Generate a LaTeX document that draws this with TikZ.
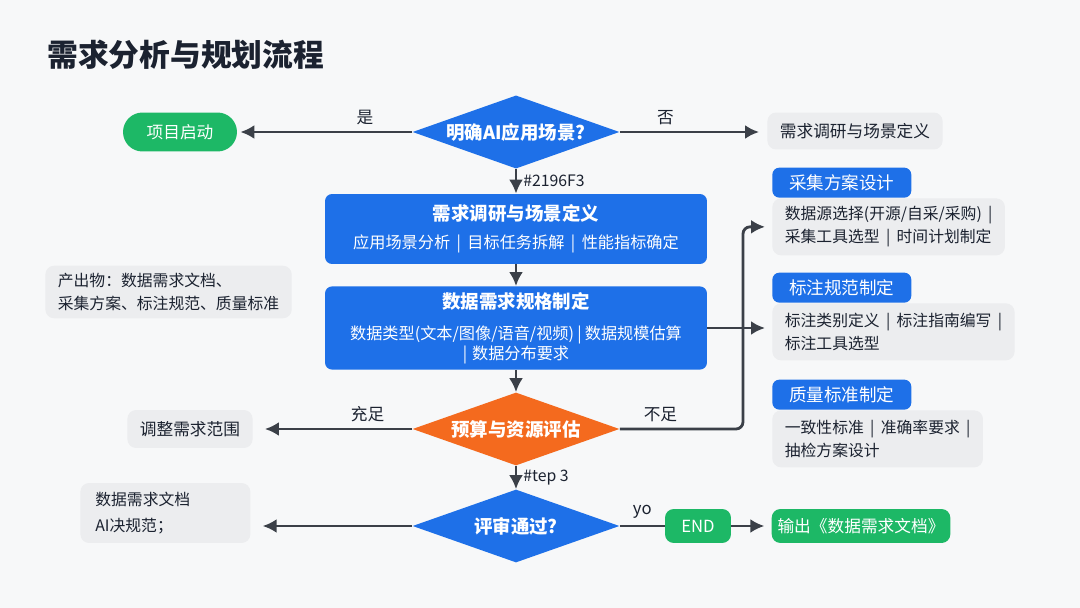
\documentclass[tikz,border=0pt]{standalone}
\usepackage{fontspec}
\setmainfont{Noto Sans CJK SC}
\usetikzlibrary{positioning,arrows.meta,shapes.geometric}
\definecolor{flowblue}{HTML}{1E70E8}
\definecolor{floworange}{HTML}{F46A1E}
\definecolor{flowgreen}{HTML}{1DB866}
\definecolor{notegray}{HTML}{ECEDEF}
\definecolor{linegray}{HTML}{3B4048}
\definecolor{titleink}{HTML}{1B2230}
\definecolor{pagebg}{HTML}{F7F8F9}
\newcommand{\barsep}{\hspace{0.4em}|\hspace{0.4em}}
\tikzset{
  flowarrow/.style={-{Latex[length=2.8mm,width=2.8mm]}, line width=1.6pt, draw=linegray},
  flowline/.style={line width=1.6pt, draw=linegray},
  decision/.style={diamond, aspect=2.76, inner sep=1pt, minimum width=4.14cm, minimum height=1.46cm, text=white, font=\fontsize{10.5}{12}\selectfont\bfseries},
  stagebox/.style={fill=flowblue, rounded corners=4pt, minimum width=7.64cm, text=white, align=center, font=\fontsize{9.2}{11.5}\selectfont},
  tagbox/.style={fill=flowblue, rounded corners=4pt, minimum width=2.78cm, minimum height=0.6cm, text=white, font=\fontsize{10}{12}\selectfont},
  notebox/.style={fill=notegray, rounded corners=5pt, align=left, inner xsep=0.25cm, inner ysep=0.15cm, text=titleink, font=\fontsize{9}{13}\selectfont},
  termbox/.style={fill=flowgreen, rounded corners=5pt, text=white, font=\fontsize{9.5}{12}\selectfont},
  edgelabel/.style={font=\fontsize{9.5}{11}\selectfont, text=titleink}
}
\begin{document}
\begin{tikzpicture}[x=0.02cm, y=-0.02cm]
  \fill[pagebg] (0,0) rectangle (1080,608);
  \useasboundingbox (0,0) rectangle (1080,608);

  \node[anchor=west, inner sep=0pt, text=titleink, font=\fontsize{17.5}{20}\selectfont\bfseries] (title) at (47,55) {需求分析与规划流程};

  \node[termbox, rounded corners=0.39cm, minimum width=2.28cm, minimum height=0.78cm] (start) at (180,132) {项目启动};
  \node[decision, fill=flowblue] (scene) at (516,132) {明确AI应用场景?};
  \node[notebox, minimum height=0.74cm, font=\fontsize{9.5}{12}\selectfont] (research) at (855,131) {需求调研与场景定义};

  \node[stagebox, minimum height=1.4cm] (stage1) at (516,229)
    {{\fontsize{10.5}{12}\selectfont\bfseries 需求调研与场景定义}\\[4.5pt]应用场景分析\barsep 目标任务拆解\barsep 性能指标确定};
  \node[stagebox, minimum height=1.62cm] (stage2) at (516,328)
    {{\fontsize{10.5}{12}\selectfont\bfseries 数据需求规格制定}\\[6pt]数据类型(文本/图像/语音/视频)\hspace{0.2em}|\hspace{0.2em}数据规模估算\\|\hspace{0.3em}数据分布要求};
  \node[decision, fill=floworange] (budget) at (516,429) {预算与资源评估};
  \node[decision, fill=flowblue] (review) at (516,526) {评审通过?};

  \node[notebox, anchor=west] (outputs) at (45,292) {产出物：数据需求文档、\\采集方案、标注规范、质量标准};
  \node[notebox, minimum width=2.4cm, minimum height=0.76cm, font=\fontsize{9.5}{12}\selectfont] (adjust) at (190,429) {调整需求范围};
  \node[notebox, anchor=west, text width=2.8cm, inner xsep=0.3cm, minimum height=1.2cm, font=\fontsize{9}{15}\selectfont] (docs) at (80,513) {数据需求文档\\AI决规范；};

  \node[termbox, minimum width=1.32cm, minimum height=0.68cm] (finish) at (698,526) {END};
  \node[termbox, minimum width=3.56cm, minimum height=0.68cm] (output) at (861,526) {输出《数据需求文档》};

  \node[notebox, anchor=north west, minimum height=1.14cm] (collectbody) at (772,198) {数据源选择(开源/自采/采购)\barsep\\采集工具选型\barsep 时间计划制定};
  \node[tagbox, anchor=south west] (collecttag) at (772,198) {采集方案设计};
  \node[notebox, anchor=north west, minimum height=1.14cm] (labelbody) at (772,303) {标注类别定义\barsep 标注指南编写\barsep\\标注工具选型};
  \node[tagbox, anchor=south west] (labeltag) at (772,303) {标注规范制定};
  \node[notebox, anchor=north west, minimum height=1.14cm] (qualitybody) at (772,410) {一致性标准\barsep 准确率要求\barsep\\抽检方案设计};
  \node[tagbox, anchor=south west] (qualitytag) at (772,410) {质量标准制定};

  \coordinate (turn) at (743,429);

  \draw[flowarrow, shorten >=0.06cm] (scene) -- node[edgelabel, above, pos=0.27] {是} (start);
  \draw[flowarrow, shorten >=0.16cm] (scene.east) -- node[edgelabel, above, pos=0.31] {否} (scene.east -| research.west);
  \draw[flowarrow] (scene) -- node[edgelabel, right, font=\fontsize{9}{11}\selectfont] {\#2196F3} (stage1);
  \draw[flowarrow] (stage1) -- (stage2);
  \draw[flowarrow] (stage2) -- (budget);
  \draw[flowarrow, shorten >=0.24cm] (budget) -- node[edgelabel, above, pos=0.28] {充足} (adjust);
  \draw[flowarrow, rounded corners=4pt, shorten >=0.14cm] (budget) -- node[edgelabel, above, pos=0.33] {不足} (turn) |- (collectbody.west);
  \draw[flowarrow, shorten >=0.14cm] (stage2.east) -- (stage2.east -| labelbody.west);
  \draw[flowarrow] (budget) -- node[edgelabel, right, font=\fontsize{9}{11}\selectfont] {\#tep 3} (review);
  \draw[flowarrow, shorten >=0.24cm] (review.west) -- (review.west -| docs.east);
  \draw[flowline] (review) -- node[edgelabel, above] {yo} (finish);
  \draw[flowarrow, shorten >=0.14cm] (finish) -- (output);
\end{tikzpicture}
\end{document}
